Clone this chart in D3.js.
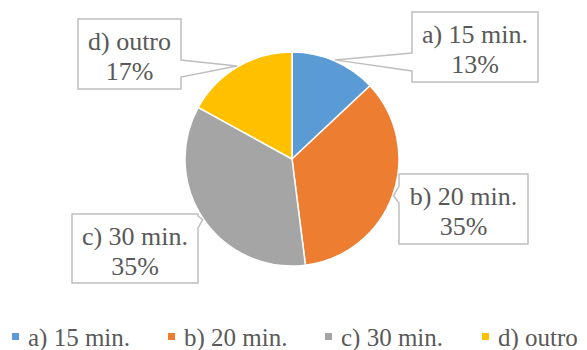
<!DOCTYPE html>
<html>
<head>
<meta charset="utf-8">
<script src="https://cdn.jsdelivr.net/npm/d3@7"></script>
<style>
  body { margin: 0; background: #fff; }
</style>
</head>
<body>
<div id="pie"></div>
<script>
var categories = ["a) 15 min.", "b) 20 min.", "c) 30 min.", "d) outro"];
var values = [13, 35, 35, 17];
var percentLabels = ["13%", "35%", "35%", "17%"];
var colors = ["#5B9BD5", "#ED7D31", "#A5A5A5", "#FFC000"];

var width = 587, height = 350;
var cx = 292, cy = 159, radius = 107;
var serif = "'Liberation Serif'";

// callout boxes: x, y, w, h, side of pointer, pointer base (y0, y1)
var boxes = [
    { x: 412, y: 12, w: 126, h: 70, side: "left", b0: 53, b1: 71 },
    { x: 399, y: 174, w: 129, h: 70, side: "left", b0: 186, b1: 203 },
    { x: 72, y: 214, w: 126, h: 69, side: "right", b0: 216, b1: 228 },
    { x: 78, y: 19, w: 103, h: 70, side: "right", b0: 60, b1: 77 }
];

var svg = d3.select("#pie")
    .append("svg")
    .attr("width", width)
    .attr("height", height);

var pie = d3.pie().sort(null).value(function (d) { return d; });
var arcs = pie(values);

var arc = d3.arc().innerRadius(0).outerRadius(radius);
var tipArc = d3.arc().innerRadius(radius + 1).outerRadius(radius + 1);

var g = svg.append("g")
    .attr("transform", "translate(" + cx + "," + cy + ")");

g.selectAll("path")
    .data(arcs)
    .enter()
    .append("path")
    .attr("d", arc)
    .style("fill", function (d, i) { return colors[i]; })
    .style("stroke", "#fff")
    .style("stroke-width", 1.5);

// callouts
arcs.forEach(function (d, i) {
    var b = boxes[i];
    var c = tipArc.centroid(d);
    var tx = cx + c[0], ty = cy + c[1];
    var p;
    if (b.side === "left") {
        p = "M" + b.x + "," + b.y + "H" + (b.x + b.w) + "V" + (b.y + b.h) + "H" + b.x +
            "V" + b.b1 + "L" + tx + "," + ty + "L" + b.x + "," + b.b0 + "Z";
    } else {
        var r = b.x + b.w;
        p = "M" + b.x + "," + b.y + "H" + r + "V" + b.b0 + "L" + tx + "," + ty +
            "L" + r + "," + b.b1 + "V" + (b.y + b.h) + "H" + b.x + "Z";
    }
    svg.append("path")
        .attr("d", p)
        .style("fill", "#fff")
        .style("stroke", "#BFBFBF")
        .style("stroke-width", 1.5);

    var t = svg.append("text")
        .attr("text-anchor", "middle")
        .style("font-family", serif)
        .style("font-size", "26px")
        .style("fill", "#595959");
    t.append("tspan")
        .attr("x", b.x + b.w / 2)
        .attr("y", b.y + 31)
        .text(categories[i]);
    t.append("tspan")
        .attr("x", b.x + b.w / 2)
        .attr("y", b.y + 61)
        .text(percentLabels[i]);
});

// legend
var legendX = [12, 168, 325, 482];
var legend = svg.selectAll(".legend")
    .data(categories)
    .enter()
    .append("g")
    .attr("class", "legend")
    .attr("transform", function (d, i) { return "translate(" + legendX[i] + ",333)"; });

legend.append("rect")
    .attr("width", 7)
    .attr("height", 7)
    .style("fill", function (d, i) { return colors[i]; });

legend.append("text")
    .attr("x", 16)
    .attr("y", 13)
    .style("font-family", serif)
    .style("font-size", "25px")
    .style("fill", "#595959")
    .text(function (d) { return d; });
</script>
</body>
</html>
